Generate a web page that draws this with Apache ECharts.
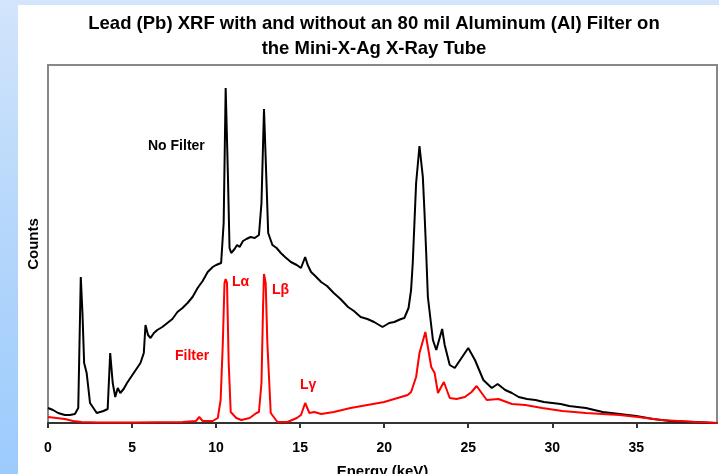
<!DOCTYPE html>
<html>
<head>
<meta charset="utf-8">
<script src="https://cdn.jsdelivr.net/npm/echarts@6/dist/echarts.min.js"></script>
<style>
html,body{margin:0;padding:0;width:719px;height:474px;overflow:hidden;}
body{background:linear-gradient(to bottom,#d2e5fb 0%,#b4d6fb 50%,#9ccbfd 100%);position:relative;}
#panel{position:absolute;left:18px;top:5px;right:0;bottom:0;background:#fff;}
#main{position:absolute;left:0;top:0;width:719px;height:474px;}
</style>
</head>
<body>
<div id="panel"></div>
<div id="main"></div>
<script>
// energy (keV) / counts, no filter
var noFilterE = [0,0.3,0.6,1.0,1.3,1.6,1.8,1.95,2.05,2.15,2.3,2.5,2.9,3.3,3.55,3.7,3.85,4.0,4.15,4.3,4.5,4.7,4.9,5.1,5.3,5.5,5.7,5.8,5.95,6.1,6.3,6.5,6.8,7.1,7.4,7.7,8.0,8.3,8.6,8.9,9.2,9.5,9.8,10.0,10.3,10.45,10.57,10.7,10.8,10.9,11.1,11.25,11.4,11.6,11.8,12.05,12.3,12.55,12.7,12.85,13.0,13.1,13.35,13.6,13.85,14.1,14.45,14.8,15.05,15.3,15.45,15.65,15.9,16.25,16.6,17.0,17.4,17.85,18.2,18.6,19.0,19.4,19.9,20.3,20.6,21.0,21.2,21.45,21.6,21.7,21.9,22.1,22.3,22.4,22.5,22.6,22.9,23.1,23.3,23.45,23.6,23.9,24.2,24.6,25.0,25.4,25.9,26.4,26.75,27.2,27.6,28.0,28.5,29.0,29.5,30.0,30.5,31.0,31.5,32.0,32.5,33.0,33.5,34.0,35.0,36.0,37.0,38.5,39.8];
var noFilterC = [15,13,10,8,8,9,15,146,110,60,50,20,10,12,14,70,40,26,35,30,34,40,45,50,55,60,70,98,88,85,90,93,96,100,104,111,115,120,126,135,142,151,156,158,160,200,335,250,175,170,174,178,176,182,184,186,185,188,220,314,240,190,178,175,170,166,161,158,155,166,158,151,147,141,137,130,124,116,112,106,104,101,96,100,101,104,105,115,133,160,240,277,246,210,170,126,83,73,85,94,78,58,55,65,75,63,43,35,39,33,30,26,24,23,21,20,19,17,16,15,13,11,10,9,7,4,2,1,0];

// with 80 mil Al filter
var filterE = [0,0.5,1.0,1.5,2.0,3.0,5.0,8.0,8.8,9.0,9.2,9.8,10.1,10.27,10.4,10.5,10.57,10.65,10.75,10.87,11.2,11.5,12.0,12.4,12.55,12.7,12.8,12.85,12.95,13.05,13.25,13.65,14.25,14.8,15.05,15.3,15.55,15.85,16.25,17.0,18.0,19.0,20.0,21.0,21.4,21.6,21.9,22.1,22.45,22.8,23.0,23.2,23.55,23.9,24.3,24.8,25.2,25.5,26.1,26.8,27.6,28.4,29.4,30.6,32.0,33.0,34.0,35.1,36.5,38.5,39.8];
var filterC = [6,5,4,2,1,0.5,0.5,1,2,6,2,2,5,23,80,140,144,140,60,11,5,3,5,10,11,40,120,149,140,80,10,1,1,5,8,20,10,11,9,11,15,18,21,26,28,31,46,70,91,56,50,30,41,25,24,26,31,37,23,24,19,18,15,12,10,9,8,6,3,1,0];

var xTicks = [0,5,10,15,20,25,30,35];

function pairs(xs, ys) {
	var out = [];
	for (var i = 0; i < xs.length; i++) {
		out.push([xs[i], ys[i]]);
	}
	return out;
}

var myChart = echarts.init(document.getElementById('main'));
var boldFont = '"Liberation Sans", Arial, sans-serif';
var option = {
	animation: false,
	title: {
		text: 'Lead (Pb) XRF with and without an 80 mil Aluminum (Al) Filter on\nthe Mini-X-Ag X-Ray Tube',
		left: 369,
		top: 6,
		textAlign: 'center',
		textStyle: {
			fontFamily: boldFont,
			fontWeight: 'bold',
			fontSize: 18.5,
			lineHeight: 25,
			color: '#000'
		}
	},
	grid: {
		left: 48,
		top: 65,
		right: 2,
		bottom: 51,
		outerBoundsMode: 'none', // keep the plot box where it is
		show: true,
		borderColor: '#888',
		borderWidth: 2,
		backgroundColor: 'transparent'
	},
	xAxis: {
		type: 'value',
		min: 0,
		max: 39.8,
		interval: 5,
		name: 'Energy (keV)',
		nameLocation: 'middle',
		nameGap: 41,
		nameTextStyle: {
			fontFamily: boldFont,
			fontWeight: 'bold',
			fontSize: 15,
			color: '#000'
		},
		splitLine: { show: false },
		axisLine: { lineStyle: { color: '#333', width: 2 } },
		axisTick: { show: true, length: 5, lineStyle: { color: '#333', width: 2 } },
		axisLabel: {
			showMaxLabel: false,
			margin: 18,
			fontFamily: boldFont,
			fontWeight: 'bold',
			fontSize: 14,
			color: '#000',
			formatter: function (v) {
				return xTicks.indexOf(v) >= 0 ? String(v) : '';
			}
		}
	},
	yAxis: {
		type: 'value',
		min: 0,
		max: 358,
		name: 'Counts',
		nameLocation: 'middle',
		nameGap: 7,
		nameRotate: 90,
		nameTextStyle: {
			fontFamily: boldFont,
			fontWeight: 'bold',
			fontSize: 15,
			color: '#000'
		},
		splitLine: { show: false },
		axisLine: { show: true, lineStyle: { color: '#888', width: 2 } },
		axisTick: { show: false },
		axisLabel: { show: false }
	},
	graphic: [
		{ type: 'text', left: 148, top: 139, style: { text: 'No Filter', fill: '#000', font: 'bold 14px ' + boldFont } },
		{ type: 'text', left: 175, top: 349, style: { text: 'Filter', fill: '#f00', font: 'bold 14px ' + boldFont } },
		{ type: 'text', left: 232, top: 275, style: { text: 'L\u03b1', fill: '#f00', font: 'bold 14px ' + boldFont } },
		{ type: 'text', left: 272, top: 283, style: { text: 'L\u03b2', fill: '#f00', font: 'bold 14px ' + boldFont } },
		{ type: 'text', left: 300, top: 378, style: { text: 'L\u03b3', fill: '#f00', font: 'bold 14px ' + boldFont } }
	],
	series: [
		{
			name: 'No Filter',
			type: 'line',
			showSymbol: false,
			lineStyle: { color: '#000', width: 2 },
			data: pairs(noFilterE, noFilterC)
		},
		{
			name: 'Filter',
			type: 'line',
			showSymbol: false,
			lineStyle: { color: '#ff0000', width: 2 },
			data: pairs(filterE, filterC)
		}
	]
};
myChart.setOption(option);
</script>
</body>
</html>
